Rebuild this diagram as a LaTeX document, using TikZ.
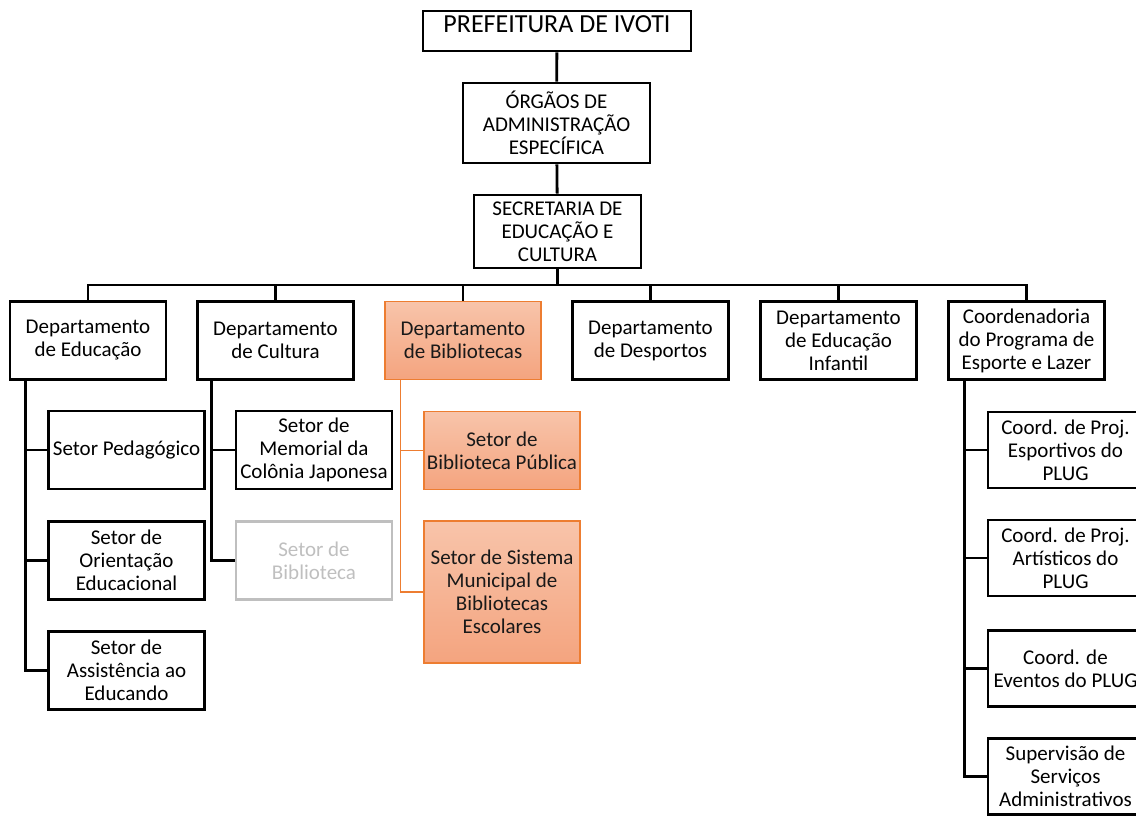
\documentclass[tikz,border=0pt]{standalone}
\usepackage{fontspec}
\setmainfont{Carlito}
\definecolor{orgline}{HTML}{ED7D31}
\definecolor{orgtop}{HTML}{F8C4AA}
\definecolor{orgbot}{HTML}{F4A47F}
\definecolor{offgray}{HTML}{BFBFBF}
\begin{document}
\begin{tikzpicture}[x=1pt, y=-1pt,
    box/.style={draw, line width=2.8pt, align=center, minimum width=156, minimum height=78,
      inner sep=1pt, font=\fontsize{21}{23}\selectfont},
    libbox/.style={box, draw=orgline, line width=1.4pt, top color=orgtop, bottom color=orgbot,
      text=black!90},
    offbox/.style={box, draw=offgray, text=offgray},
    link/.style={line width=2.8pt},
    liblink/.style={draw=orgline, line width=1.4pt}]
    \path[use as bounding box] (0,0) rectangle (1136,816);
    \clip (0,0) rectangle (1136,816);

    \node[box, minimum width=268, minimum height=40, inner sep=2pt, text height=20, text depth=16,
      font=\fontsize{26}{28}\selectfont] (pref) at (557,31) {PREFEITURA DE IVOTI};
    \node[box, minimum width=187, minimum height=80] (org) at (556.5,123)
      {ÓRGÃOS DE\\ADMINISTRAÇÃO\\ESPECÍFICA};
    \node[box, minimum width=167, minimum height=73] (sec) at (557.5,231.5)
      {SECRETARIA DE\\EDUCAÇÃO E\\CULTURA};
    \coordinate (bar) at (557.5,285);

    \node[box] (edu) at (88,340.5) {Departamento\\de Educação};
    \node[box] (cul) at (275.5,340.5) {Departamento\\de Cultura};
    \node[libbox] (bib) at (463,340.5) {Departamento\\de Bibliotecas};
    \node[box] (des) at (650.5,340.5) {Departamento\\de Desportos};
    \node[box] (inf) at (838.5,340.5) {Departamento\\de Educação\\Infantil};
    \node[box] (coo) at (1026.5,340.5) {Coordenadoria\\do Programa de\\Esporte e Lazer};

    \node[box] (ped) at (126.5,450) {Setor Pedagógico};
    \node[box] (ori) at (126.5,560.5) {Setor de\\Orientação\\Educacional};
    \node[box] (ass) at (126.5,670.5) {Setor de\\Assistência ao\\Educando};

    \node[box] (mem) at (314,450) {Setor de\\Memorial da\\Colônia Japonesa};
    \node[offbox] (sbib) at (314,560.5) {Setor de\\Biblioteca};

    \node[libbox] (pub) at (502,450.5) {Setor de\\Biblioteca Pública};
    \node[libbox, minimum height=142] (esc) at (502,592) {Setor de Sistema\\Municipal de\\Bibliotecas\\Escolares};

    \node[box, minimum width=155, minimum height=76] (esp) at (1065.5,450) {Coord. de Proj.\\Esportivos do\\PLUG};
    \node[box, minimum width=155, minimum height=76] (art) at (1065.5,558) {Coord. de Proj.\\Artísticos do\\PLUG};
    \node[box, minimum width=155, minimum height=76] (eve) at (1065.5,668.5) {Coord. de\\Eventos do PLUG};
    \node[box, minimum width=155, minimum height=76] (sup) at (1065.5,776.5) {Supervisão de\\Serviços\\Administrativos};

    \draw[link] (pref) -- (org);
    \draw[link] (org) -- (sec);
    \draw[link] (sec) -- (bar);
    \draw[link] (edu.north) |- (bar) -| (coo.north);
    \foreach \d in {cul,bib,des,inf}
      \draw[link] (\d.north) -- (\d.north |- bar);

    \coordinate (eduT) at ([xshift=17pt]edu.south west);
    \coordinate (culT) at ([xshift=15pt]cul.south west);
    \coordinate (bibT) at ([xshift=16pt]bib.south west);
    \coordinate (cooT) at ([xshift=17pt]coo.south west);

    \foreach \s in {ped,ori,ass}
      \draw[link] (eduT) |- (\s.west);
    \foreach \s in {mem,sbib}
      \draw[link] (culT) |- (\s.west);
    \foreach \s in {pub,esc}
      \draw[liblink] (bibT) |- (\s.west);
    \foreach \s in {esp,art,eve,sup}
      \draw[link] (cooT) |- (\s.west);
\end{tikzpicture}
\end{document}
